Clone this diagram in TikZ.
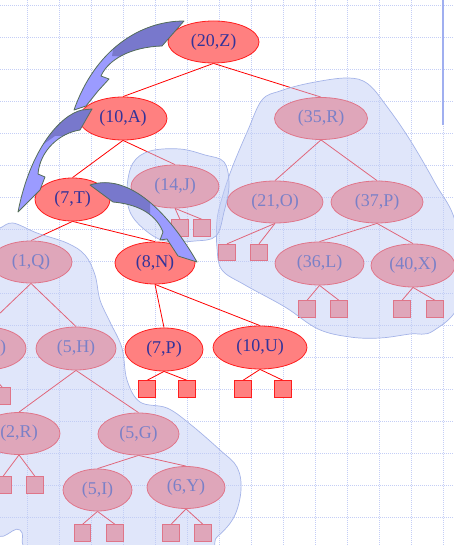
\documentclass[tikz,border=0pt]{standalone}
\usepackage{fontspec}
\setmainfont{Liberation Serif}
\usetikzlibrary{shapes.geometric}
\definecolor{nodefill}{RGB}{255,128,128}
\definecolor{noderim}{RGB}{255,30,30}
\definecolor{nodetext}{RGB}{51,51,153}
\definecolor{gridc}{RGB}{196,206,246}
\definecolor{blobfill}{RGB}{193,205,245}
\definecolor{blobrim}{RGB}{165,180,232}
\definecolor{arrlight}{RGB}{155,155,255}
\definecolor{arrdark}{RGB}{120,120,204}
\definecolor{arrrim}{RGB}{85,110,90}
\definecolor{barc}{RGB}{160,175,240}
\pgfdeclarelayer{bg}
\pgfsetlayers{bg,main}
\newcommand\arrowpathA{(184,21) .. controls (140,21) and (95,50) .. (74,110) -- (86,106) -- (98,91) -- (109,79) -- (101,76) .. controls (108,60) and (130,47) .. (162,46) -- cycle}
\newcommand\arrowpathB{(92,109) -- (82,110) .. controls (60,115) and (30,150) .. (18,212) -- (40,190) -- (45,177) -- (38,174) .. controls (40,150) and (60,133) .. (80,130) -- cycle}
\newcommand\arrowpathC{(90,185) .. controls (130,172) and (170,215) .. (197,262) -- (178,256) -- (167,239) -- (160,240) -- (163,232) .. controls (155,212) and (135,204) .. (113,202) -- cycle}
\begin{document}
\begin{tikzpicture}[x=1pt,y=-1pt,
 kv/.style={ellipse,draw=noderim,fill=nodefill,line width=0.8pt,inner sep=0pt,text=nodetext,font=\fontsize{18}{18}\selectfont},
 leaf/.style={rectangle,draw=noderim,fill=nodefill,line width=0.8pt,minimum size=16.5pt,inner sep=0pt},
 edge/.style={draw=red,line width=0.8pt},
 gridline/.style={draw=gridc,line width=0.8pt,dash pattern=on 1pt off 1pt},
 blob/.style={fill=blobfill,fill opacity=0.5,draw=blobrim,line width=0.7pt},
 bigarrow/.style={draw=arrrim,line width=0.8pt,line join=round}]
\useasboundingbox (0,0) rectangle (454,545);
\clip (0,0) rectangle (454,545);

% nodes
\node[kv,minimum width=91pt,minimum height=42pt] (z20) at (213.5,42) {(20,Z)};
\node[kv,minimum width=88pt,minimum height=43pt] (a10) at (123,118.5) {(10,A)};
\node[kv,minimum width=75pt,minimum height=43pt] (t7) at (72.5,199.5) {(7,T)};
\node[kv,minimum width=80pt,minimum height=42pt] (n8) at (155,263) {(8,N)};
\node[kv,minimum width=78pt,minimum height=43pt] (p7) at (164,349.5) {(7,P)};
\node[kv,minimum width=94pt,minimum height=43pt] (u10) at (260,347.5) {(10,U)};
\node[kv,minimum width=88pt,minimum height=43pt] (j14) at (175,186.5) {(14,J)};
\node[kv,minimum width=93pt,minimum height=42pt] (r35) at (321,118.5) {(35,R)};
\node[kv,minimum width=96pt,minimum height=42pt] (o21) at (275,202) {(21,O)};
\node[kv,minimum width=92pt,minimum height=42pt] (p37) at (377,202) {(37,P)};
\node[kv,minimum width=89pt,minimum height=43pt] (l36) at (319.5,263.5) {(36,L)};
\node[kv,minimum width=84pt,minimum height=43pt] (x40) at (413,265.5) {(40,X)};
\node[kv,minimum width=82pt,minimum height=42pt] (q1) at (31,262) {(1,Q)};
\node[kv,minimum width=80pt,minimum height=43pt] (h5) at (76,348.5) {(5,H)};
\node[kv,minimum width=80pt,minimum height=43pt] (n3) at (-14,348.5) {};
\node[text=nodetext,font=\fontsize{18}{18}\selectfont,inner sep=0pt] (n3t) at (3,348.5) {)};
\node[kv,minimum width=82pt,minimum height=42pt] (r2) at (19,433.5) {(2,R)};
\node[kv,minimum width=81pt,minimum height=42pt] (g5) at (138.5,434) {(5,G)};
\node[kv,minimum width=69pt,minimum height=42pt] (i5) at (97.5,490) {(5,I)};
\node[kv,minimum width=78pt,minimum height=42pt] (y6) at (186,487.5) {(6,Y)};

% leaves
\foreach \p/\xa/\xb/\yy in {j14/180/202/228, o21/227/259/252.5, l36/307/339/309, x40/402/435/309, p7/147/187/389, u10/243/283/389, n3/-30/2.5/396, r2/3/35/485, i5/82.5/115/533, y6/171/203/533}{
  \node[leaf] (\p-l) at (\xa,\yy) {};
  \node[leaf] (\p-r) at (\xb,\yy) {};
}

\begin{pgfonlayer}{bg}
  \foreach \gx in {27,59,...,443} \draw[gridline] (\gx,0) -- (\gx,545);
  \foreach \gy in {5,37,...,517} \draw[gridline] (0,\gy) -- (454,\gy);
  \draw[barc,line width=2pt] (443,0) -- (443,125);
  \foreach \u/\v in {z20/a10, z20/r35, a10/t7, a10/j14, t7/q1, t7/n8, n8/p7, n8/u10, r35/o21, r35/p37, p37/l36, p37/x40, q1/n3, q1/h5, h5/r2, h5/g5, g5/i5, g5/y6}
    \draw[edge] (\u.south) -- (\v.north);
  \foreach \p in {j14,o21,l36,x40,p7,u10,n3,r2,i5,y6}{
    \draw[edge] (\p.south) -- (\p-l.north);
    \draw[edge] (\p.south) -- (\p-r.north);
  }
\end{pgfonlayer}

% blobs
\path[blob] plot[smooth cycle,tension=0.6] coordinates {(262,100) (280,91) (310,83) (347,78) (368,84) (388,108) (410,140) (435,183) (456,225) (460,300) (433,331) (410,334) (380,338) (350,337) (318,329) (285,307) (245,285) (222,270) (217,248) (217,220) (222,198) (232,168) (248,130)};
\path[blob] plot[smooth cycle,tension=0.6] coordinates {(133,163) (150,151) (180,149) (205,155) (224,162) (229,185) (224,212) (216,236) (195,241) (165,241) (145,230) (130,212) (127,188)};
\path[blob] plot[smooth cycle,tension=0.6] coordinates {(-10,230) (0,228) (13,223) (37,233) (67,243) (85,255) (95,275) (100,300) (110,322) (122,348) (127,380) (140,402) (167,408) (190,424) (220,450) (237,467) (241,490) (234,517) (217,537) (195,552) (40,552) (20,530) (-10,510)};

% curved arrows
\fill[arrlight] \arrowpathA;
\begin{scope}
  \clip (200,0) -- (118,20) -- (112,56) -- (200,60) -- cycle;
  \fill[arrdark] \arrowpathA;
\end{scope}
\draw[bigarrow] \arrowpathA;

\fill[arrlight] \arrowpathB;
\begin{scope}
  \clip (0,90) -- (120,90) -- (120,135) -- (55,136) -- (38,148) -- (0,148) -- cycle;
  \fill[arrdark] \arrowpathB;
\end{scope}
\draw[bigarrow] \arrowpathB;

\fill[arrlight] \arrowpathC;
\begin{scope}
  \clip (80,160) -- (150,160) -- (150,230) -- (80,230) -- cycle;
  \fill[arrdark] \arrowpathC;
\end{scope}
\draw[bigarrow] \arrowpathC;
\end{tikzpicture}
\end{document}
